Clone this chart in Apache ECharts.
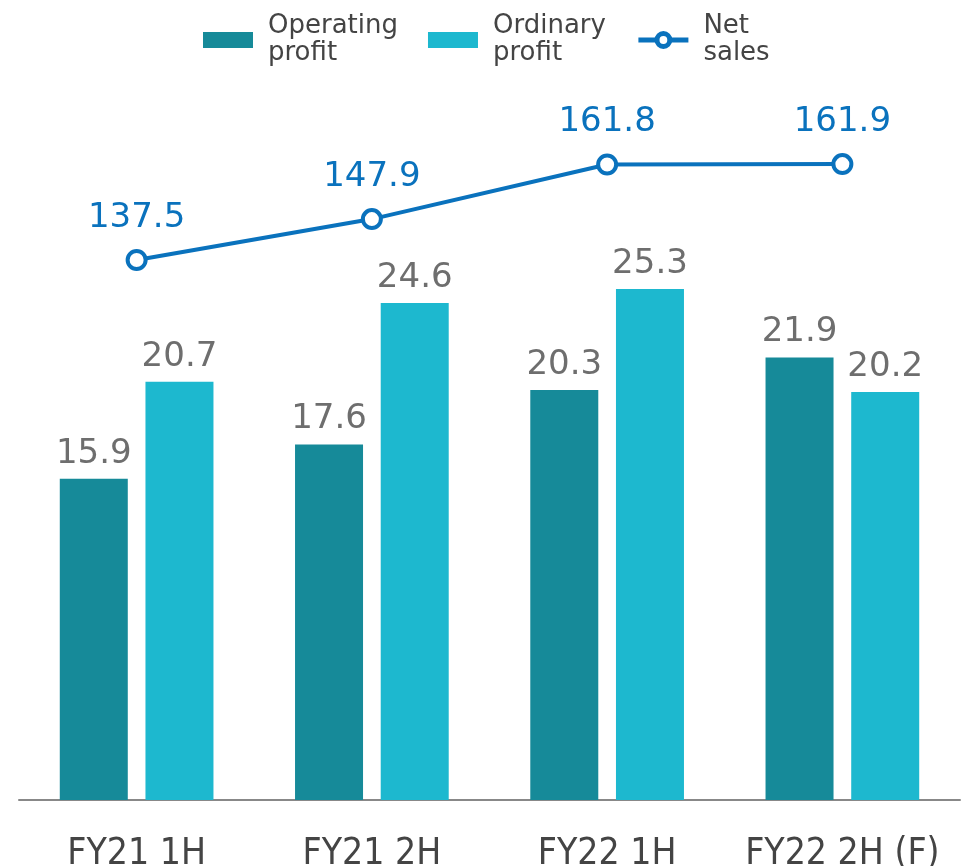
<!DOCTYPE html>
<html>
<head>
<meta charset="utf-8">
<script src="https://cdn.jsdelivr.net/npm/echarts@6/dist/echarts.min.js"></script>
<style>
  html, body { margin: 0; padding: 0; background: #fff; }
  #chart { width: 977px; height: 866px; }
</style>
</head>
<body>
<div id="chart"></div>
<script>
const categories = ['FY21 1H', 'FY21 2H', 'FY22 1H', 'FY22 2H (F)'];
const operatingProfit = [15.9, 17.6, 20.3, 21.9];
const ordinaryProfit = [20.7, 24.6, 25.3, 20.2];
const netSales = [137.5, 147.9, 161.8, 161.9];

const chart = echarts.init(document.getElementById('chart'));
const font = '"DejaVu Sans", sans-serif';

chart.setOption({
  animation: false,
  legend: {
    top: 8,
    left: 198,
    itemWidth: 50,
    itemHeight: 16,
    itemGap: 30,
    formatter: name => name.replace(' ', '\n'),
    textStyle: { fontFamily: font, fontSize: 26, color: '#444', lineHeight: 27, padding: [0, 0, 0, 10] },
    data: [
      { name: 'Operating profit', icon: 'rect' },
      { name: 'Ordinary profit', icon: 'rect' },
      { name: 'Net sales', lineStyle: { width: 5 }, itemStyle: { borderWidth: 5 } }
    ]
  },
  grid: { left: 19, right: 17, top: 93, bottom: 66, containLabel: false, outerBoundsMode: 'none' },
  xAxis: {
    type: 'category',
    data: categories,
    axisTick: { show: false },
    axisLine: { lineStyle: { color: '#888', width: 2 } },
    axisLabel: {
      interval: 0,
      fontFamily: '"DejaVu Sans Condensed", "Liberation Sans Narrow", sans-serif',
      fontSize: 37, color: '#444', margin: 36
    }
  },
  yAxis: [
    { type: 'value', min: 0, max: 35, show: false, splitLine: { show: false } },
    { type: 'value', min: 0, max: 180, show: false, splitLine: { show: false } }
  ],
  series: [
    {
      name: 'Operating profit',
      type: 'bar',
      data: operatingProfit,
      barWidth: 68,
      barGap: '26%',
      itemStyle: { color: '#168A99' },
      label: { show: true, position: 'top', distance: 8, fontFamily: font, fontSize: 34, color: '#6E6E6E' }
    },
    {
      name: 'Ordinary profit',
      type: 'bar',
      data: ordinaryProfit,
      barWidth: 68,
      itemStyle: { color: '#1DB8CF' },
      label: { show: true, position: 'top', distance: 8, fontFamily: font, fontSize: 34, color: '#6E6E6E' }
    },
    {
      name: 'Net sales',
      type: 'line',
      yAxisIndex: 1,
      data: netSales,
      symbol: 'circle',
      symbolSize: 18,
      lineStyle: { color: '#0A72BD', width: 4 },
      itemStyle: { color: '#fff', borderColor: '#0A72BD', borderWidth: 4 },
      label: {
        show: true, position: 'top', distance: 14,
        fontFamily: font, fontSize: 34, color: '#0A72BD',
        formatter: p => p.value.toFixed(1)
      }
    }
  ]
});
</script>
</body>
</html>
